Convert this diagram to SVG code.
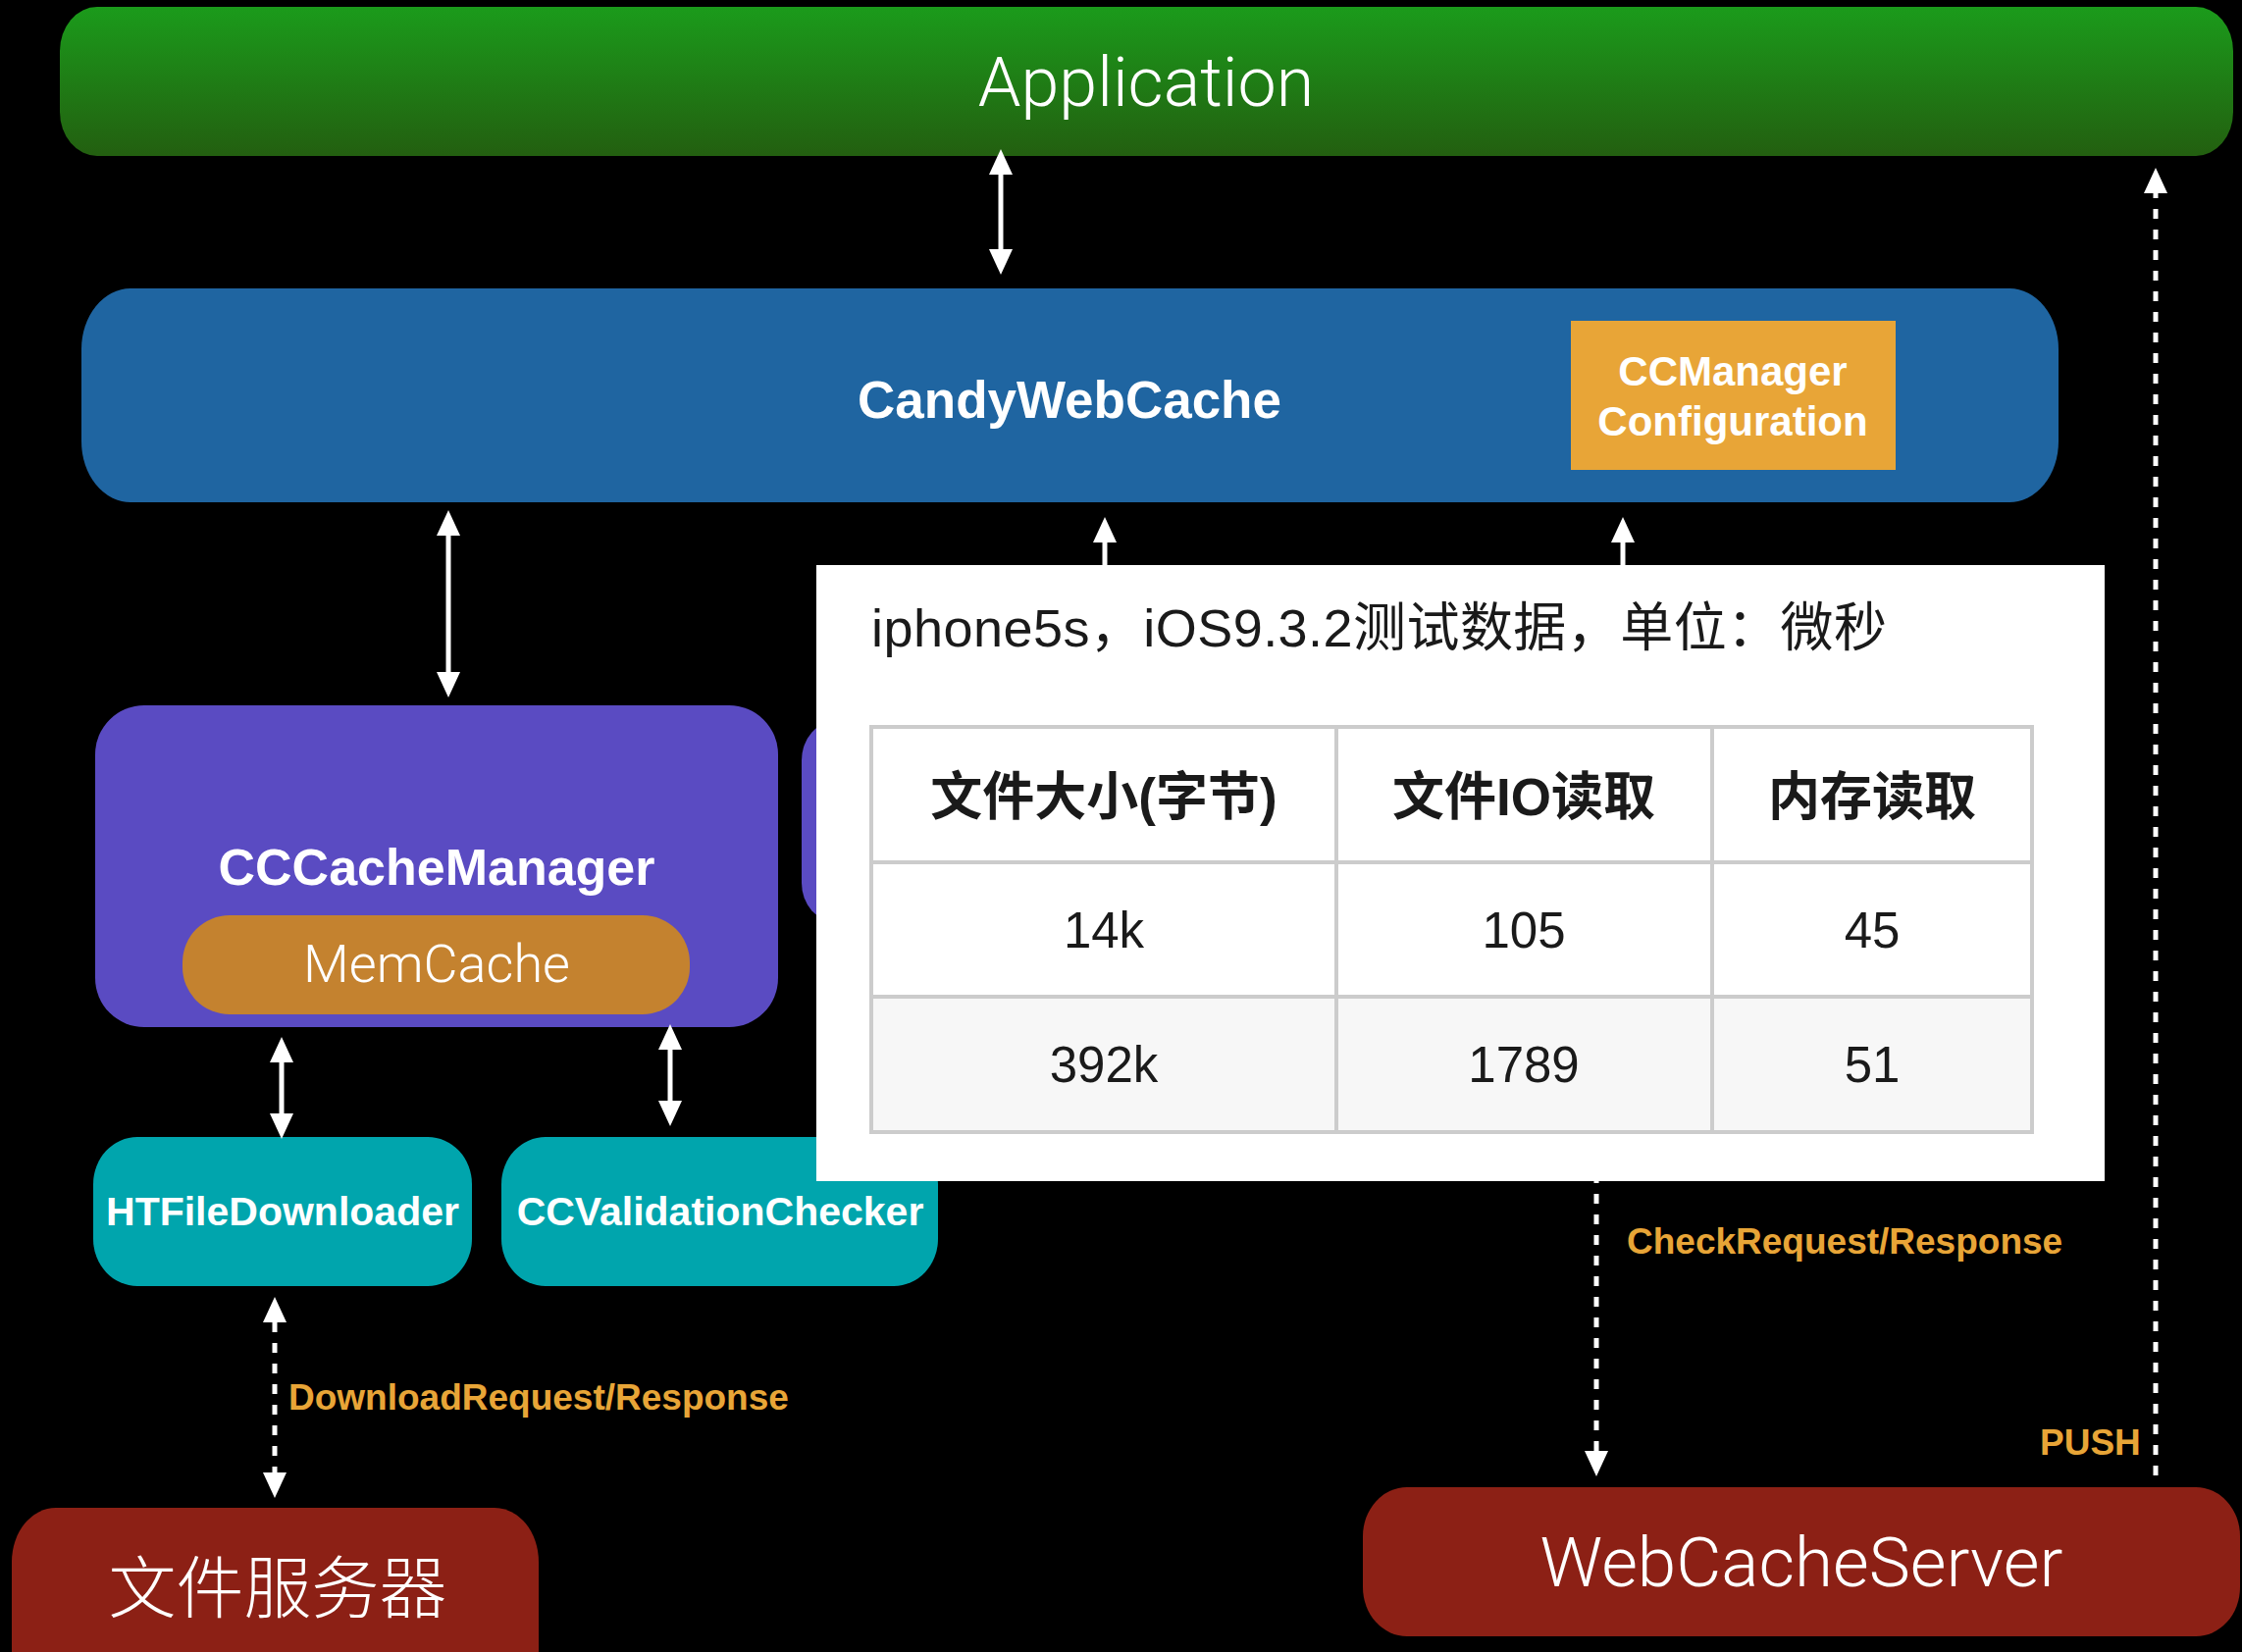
<svg xmlns="http://www.w3.org/2000/svg" width="2285" height="1684" viewBox="0 0 2285 1684">
<defs>
<linearGradient id="gGreen" x1="0" y1="0" x2="0" y2="1">
<stop offset="0" stop-color="#1b9b1b"/>
<stop offset="1" stop-color="#235f10"/>
</linearGradient>
<marker id="ah" viewBox="0 0 26 24" refX="0" refY="12" markerWidth="26" markerHeight="24" markerUnits="userSpaceOnUse" orient="auto-start-reverse">
<path d="M0,0 L26,12 L0,24 z" fill="#ffffff"/>
</marker>
<style>
.bg{fill:#000}
.lbl{font-family:"Liberation Sans",Arial,sans-serif;font-weight:bold;fill:#fff;text-anchor:middle}
.light{font-family:Roboto,"Liberation Sans","Noto Sans CJK SC",sans-serif;font-weight:300;fill:#fff;text-anchor:middle}
.orange{font-family:"Liberation Sans",Arial,sans-serif;font-weight:bold;fill:#e8a537;font-size:37px}
.conn{stroke:#fff;stroke-width:5;fill:none}
.dash{stroke-dasharray:10 11}
.tbl{font-family:"Liberation Sans","Noto Sans CJK SC",sans-serif;fill:#1a1a1a;text-anchor:middle}
.grid{stroke:#cccccc;stroke-width:4;fill:none}
</style>
</defs>
<rect class="bg" x="0" y="0" width="2285" height="1684"/>

<g id="application">
<rect x="61" y="7" width="2215" height="152" rx="38" ry="45" fill="url(#gGreen)"/>
<text class="light" x="1168" y="108" font-size="70">Application</text>
</g>

<g id="candywebcache">
<rect x="83" y="294" width="2015" height="218" rx="50" ry="62" fill="#1f65a1"/>
<text class="lbl" x="1090" y="426" font-size="53">CandyWebCache</text>
</g>

<g id="ccmanager-configuration">
<rect x="1601" y="327" width="331" height="152" fill="#e8a537"/>
<text class="lbl" x="1766" y="393" font-size="42">CCManager</text>
<text class="lbl" x="1766" y="444" font-size="42">Configuration</text>
</g>

<g id="cccachemanager">
<rect x="97" y="719" width="696" height="328" rx="50" ry="50" fill="#5a4bc2"/>
<text class="lbl" x="445" y="902" font-size="52">CCCacheManager</text>
</g>

<g id="memcache">
<rect x="186" y="933" width="517" height="101" rx="48" ry="48" fill="#c4822f"/>
<text class="light" x="445" y="1001" font-size="54">MemCache</text>
</g>

<g id="hidden-box">
<rect x="817" y="735" width="220" height="205" rx="35" ry="40" fill="#5a4bc2"/>
</g>

<g id="htfiledownloader">
<rect x="95" y="1159" width="386" height="152" rx="45" ry="48" fill="#00a5ad"/>
<text class="lbl" x="288" y="1249" font-size="41">HTFileDownloader</text>
</g>

<g id="ccvalidationchecker">
<rect x="511" y="1159" width="445" height="152" rx="45" ry="48" fill="#00a5ad"/>
<text class="lbl" x="734" y="1249" font-size="41">CCValidationChecker</text>
</g>

<g id="file-server">
<rect x="12" y="1537" width="537" height="200" rx="45" ry="55" fill="#8c2015"/>
<text class="light" x="283" y="1644" font-size="69">文件服务器</text>
</g>

<g id="webcacheserver">
<rect x="1389" y="1516" width="894" height="152" rx="45" ry="50" fill="#8c2015"/>
<text class="light" x="1836" y="1617" font-size="71">WebCacheServer</text>
</g>

<g id="connectors">
<line class="conn" x1="1020" y1="178" x2="1020" y2="254" marker-start="url(#ah)" marker-end="url(#ah)"/>
<line class="conn" x1="457" y1="546" x2="457" y2="685" marker-start="url(#ah)" marker-end="url(#ah)"/>
<line class="conn" x1="1126" y1="620" x2="1126" y2="553" marker-end="url(#ah)"/>
<line class="conn" x1="1654" y1="620" x2="1654" y2="553" marker-end="url(#ah)"/>
<line class="conn" x1="287" y1="1083" x2="287" y2="1135" marker-start="url(#ah)" marker-end="url(#ah)"/>
<line class="conn" x1="683" y1="1070" x2="683" y2="1122" marker-start="url(#ah)" marker-end="url(#ah)"/>
<line class="conn dash" x1="280" y1="1348" x2="280" y2="1501" marker-start="url(#ah)" marker-end="url(#ah)"/>
<line class="conn dash" x1="1627" y1="1196" x2="1627" y2="1479" marker-end="url(#ah)"/>
<line class="conn dash" x1="2197" y1="1504" x2="2197" y2="197" marker-end="url(#ah)"/>
<text class="orange" x="294" y="1437">DownloadRequest/Response</text>
<text class="orange" x="1658" y="1278">CheckRequest/Response</text>
<text class="orange" x="2079" y="1483">PUSH</text>
</g>

<g id="benchmark-panel">
<rect x="832" y="576" width="1313" height="628" fill="#ffffff"/>
<text class="tbl" x="888" y="659" font-size="54" style="text-anchor:start" textLength="1035" lengthAdjust="spacing">iphone5s，iOS9.3.2测试数据，单位：微秒</text>
<rect x="888" y="1016" width="1183" height="138" fill="#f7f7f7"/>
<rect class="grid" x="888" y="741" width="1183" height="413"/>
<line class="grid" x1="888" y1="879" x2="2071" y2="879"/>
<line class="grid" x1="888" y1="1016" x2="2071" y2="1016"/>
<line class="grid" x1="1362" y1="741" x2="1362" y2="1154"/>
<line class="grid" x1="1745" y1="741" x2="1745" y2="1154"/>
<text class="tbl" x="1125" y="831" font-size="53" font-weight="bold">文件大小(字节)</text>
<text class="tbl" x="1553" y="831" font-size="53" font-weight="bold">文件IO读取</text>
<text class="tbl" x="1908" y="831" font-size="53" font-weight="bold">内存读取</text>
<text class="tbl" x="1125" y="966" font-size="51">14k</text>
<text class="tbl" x="1553" y="966" font-size="51">105</text>
<text class="tbl" x="1908" y="966" font-size="51">45</text>
<text class="tbl" x="1125" y="1103" font-size="51">392k</text>
<text class="tbl" x="1553" y="1103" font-size="51">1789</text>
<text class="tbl" x="1908" y="1103" font-size="51">51</text>
</g>
</svg>
